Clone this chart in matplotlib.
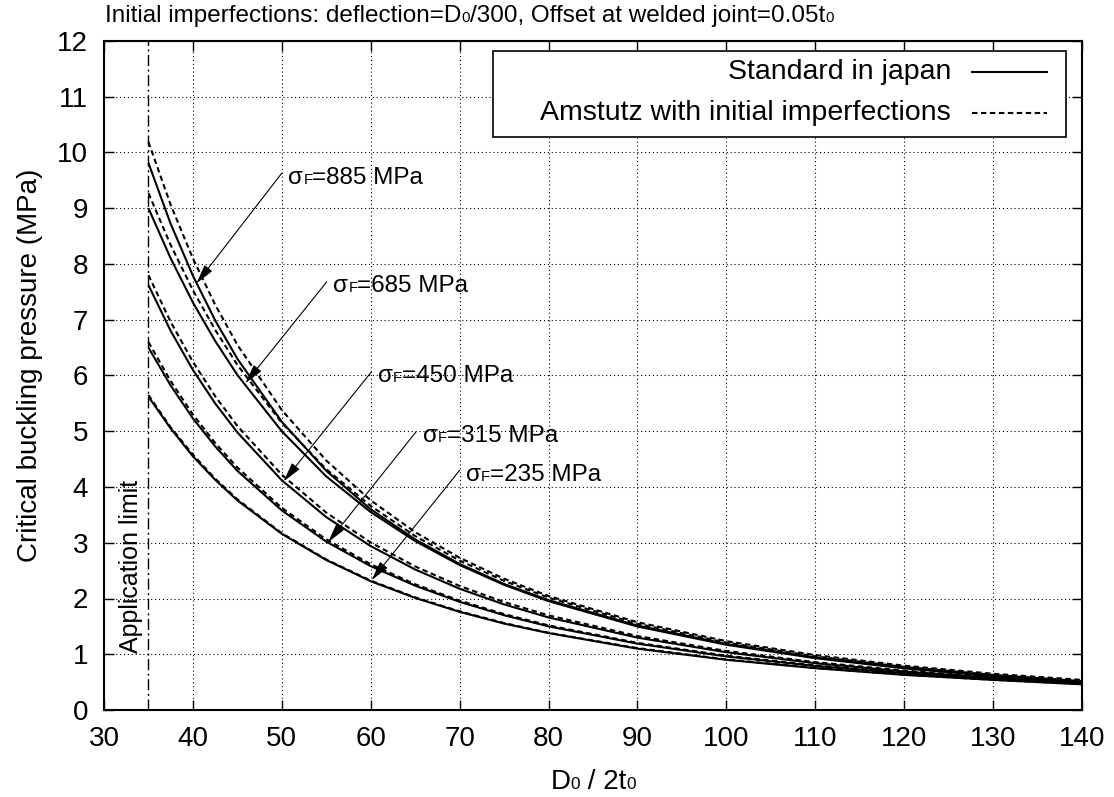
import matplotlib
matplotlib.use('Agg')
import matplotlib.pyplot as plt
from matplotlib.offsetbox import TextArea, HPacker, AnnotationBbox
from matplotlib.lines import Line2D
from matplotlib.patches import Rectangle

plt.rcParams['font.family'] = ['Liberation Sans', 'DejaVu Sans']

# ---------------- data ----------------
x = [35, 37.5, 40, 42.5, 45, 50, 55, 60, 65, 70, 75, 80, 90, 100, 110, 120, 130, 140]

std_235 = [5.62, 5.05, 4.55, 4.13, 3.76, 3.16, 2.69, 2.31, 2.01, 1.76, 1.55, 1.38, 1.10, 0.90, 0.75, 0.63, 0.54, 0.46]
ams_235 = [5.65, 5.07, 4.58, 4.15, 3.78, 3.17, 2.70, 2.32, 2.02, 1.77, 1.56, 1.385, 1.11, 0.907, 0.755, 0.635, 0.542, 0.466]
std_315 = [6.50, 5.82, 5.23, 4.73, 4.29, 3.58, 3.02, 2.58, 2.23, 1.94, 1.70, 1.50, 1.19, 0.96, 0.79, 0.66, 0.56, 0.475]
ams_315 = [6.60, 5.90, 5.30, 4.79, 4.35, 3.625, 3.06, 2.615, 2.255, 1.962, 1.72, 1.518, 1.204, 0.974, 0.801, 0.668, 0.563, 0.480]
std_450 = [7.62, 6.80, 6.10, 5.50, 4.98, 4.12, 3.46, 2.94, 2.52, 2.175, 1.894, 1.66, 1.298, 1.036, 0.84, 0.691, 0.576, 0.485]
ams_450 = [7.80, 6.96, 6.245, 5.63, 5.095, 4.22, 3.54, 3.005, 2.575, 2.225, 1.937, 1.698, 1.327, 1.059, 0.858, 0.706, 0.588, 0.495]
std_685 = [9.00, 8.10, 7.31, 6.62, 6.01, 5.00, 4.19, 3.55, 3.03, 2.60, 2.245, 1.952, 1.498, 1.17, 0.929, 0.747, 0.608, 0.50]
ams_685 = [9.27, 8.34, 7.53, 6.82, 6.19, 5.15, 4.32, 3.66, 3.12, 2.68, 2.315, 2.015, 1.547, 1.21, 0.962, 0.774, 0.630, 0.518]
std_885 = [9.81, 8.72, 7.79, 6.99, 6.30, 5.17, 4.29, 3.60, 3.06, 2.62, 2.26, 1.97, 1.515, 1.185, 0.942, 0.76, 0.62, 0.51]
ams_885 = [10.19, 9.06, 8.10, 7.27, 6.55, 5.38, 4.475, 3.76, 3.19, 2.73, 2.355, 2.045, 1.575, 1.235, 0.985, 0.795, 0.65, 0.54]

std_series = [std_885, std_685, std_450, std_315, std_235]
ams_series = [ams_885, ams_685, ams_450, ams_315, ams_235]
yield_stress = [885, 685, 450, 315, 235]

legend_labels = ['Standard in japan', 'Amstutz with initial imperfections']
xticks = list(range(30, 141, 10))
yticks = list(range(0, 13))
application_limit = 35

# ---------------- layout ----------------
W, H = 1114, 797
fig = plt.figure(figsize=(W / 100, H / 100), dpi=100)
ax = fig.add_axes([104 / W, 1 - 710 / H, (1082 - 104) / W, (710 - 41) / H])
ax.set_xlim(30, 140)
ax.set_ylim(0, 12)

FS = 20
SMALL = 0.62

lw = 1.5
for s in std_series:
    ax.plot(x, s, color='black', lw=lw, solid_capstyle='butt', zorder=3)
for s in ams_series:
    ax.plot(x, s, color='black', lw=lw, dashes=(2.6, 1.7), zorder=3)

ax.axvline(application_limit, color='black', lw=1.0, dashes=(8, 2.5, 1.5, 2.5), zorder=2)

ax.set_xticks(xticks)
ax.set_yticks(yticks)
ax.tick_params(direction='in', length=7.2, width=1.0, top=True, right=True,
               labelsize=FS, pad=11.5)
ax.grid(True, color='black', lw=0.8, linestyle=(0, (1, 2.5)))
for sp in ax.spines.values():
    sp.set_linewidth(1.5)


def rich(parts, size):
    children = []
    for txt, small in parts:
        children.append(TextArea(txt, textprops=dict(fontsize=size * (SMALL if small else 1.0),
                                                     color='black')))
    return HPacker(children=children, align='baseline', pad=0, sep=0)


# annotations with arrows
arrow_start = [(50.0, 9.63), (55.05, 7.68), (60.1, 6.07), (65.1, 4.99), (70.0, 4.30)]
arrow_tip = [(40.4, 7.65), (45.9, 5.86), (50.2, 4.10), (55.2, 3.01), (60.1, 2.33)]
for sv, (sx, sy), (tx, ty) in zip(yield_stress, arrow_start, arrow_tip):
    ax.annotate('', xy=(tx, ty), xytext=(sx, sy),
                arrowprops=dict(arrowstyle='-|>,head_length=0.6,head_width=0.15',
                                mutation_scale=20, lw=0.8, color='black',
                                shrinkA=0, shrinkB=0), zorder=4)
    box = rich([('σ', False), ('F', True), ('=%d MPa' % sv, False)], 17.5)
    ab = AnnotationBbox(box, (sx + 0.75, sy - 0.08), xycoords='data',
                        box_alignment=(0, 0.5), frameon=False, pad=0, zorder=5)
    ax.add_artist(ab)

# application limit text
ax.text(34.35, 1.02, 'Application limit', rotation=90, ha='right', va='bottom',
        fontsize=18, color='black')

# legend (gnuplot style: text right-aligned, sample on the right)
ax.add_patch(Rectangle(((493 - 104) / 978, (710 - 137) / 669), (1066 - 493) / 978,
                       (137 - 51) / 669, transform=ax.transAxes, fill=True,
                       facecolor='white', edgecolor='black', lw=1.2, zorder=6))
rows_y = [(710 - 72) / 669, (710 - 113) / 669]
text_right = (951 - 104) / 978
line_x = [(972 - 104) / 978, (1047 - 104) / 978]
styles = [dict(), dict(dashes=(2.6, 1.7))]
for lab, ry, st in zip(legend_labels, rows_y, styles):
    ax.text(text_right, ry, lab, transform=ax.transAxes, ha='right', va='center',
            fontsize=20.5, zorder=7)
    ax.add_line(Line2D(line_x, [ry, ry], transform=ax.transAxes, color='black',
                       lw=lw, zorder=7, **st))

# axis labels
fig.text(30 / W, 1 - 365 / H, 'Critical buckling pressure (MPa)', rotation=90,
         ha='center', va='center', fontsize=20)
xl = rich([('D', False), ('0', True), (' / 2t', False), ('0', True)], 20)
fig.add_artist(AnnotationBbox(xl, (593, 15), xycoords='figure pixels',
                              box_alignment=(0.5, 0.5), frameon=False, pad=0))

# title
tl = rich([('Initial imperfections: deflection=D', False), ('0', True),
           ('/300, Offset at welded joint=0.05t', False), ('0', True)], 17.5)
fig.add_artist(AnnotationBbox(tl, (105, H - 16), xycoords='figure pixels',
                              box_alignment=(0, 0.5), frameon=False, pad=0))

fig.savefig('out.png', dpi=100)
